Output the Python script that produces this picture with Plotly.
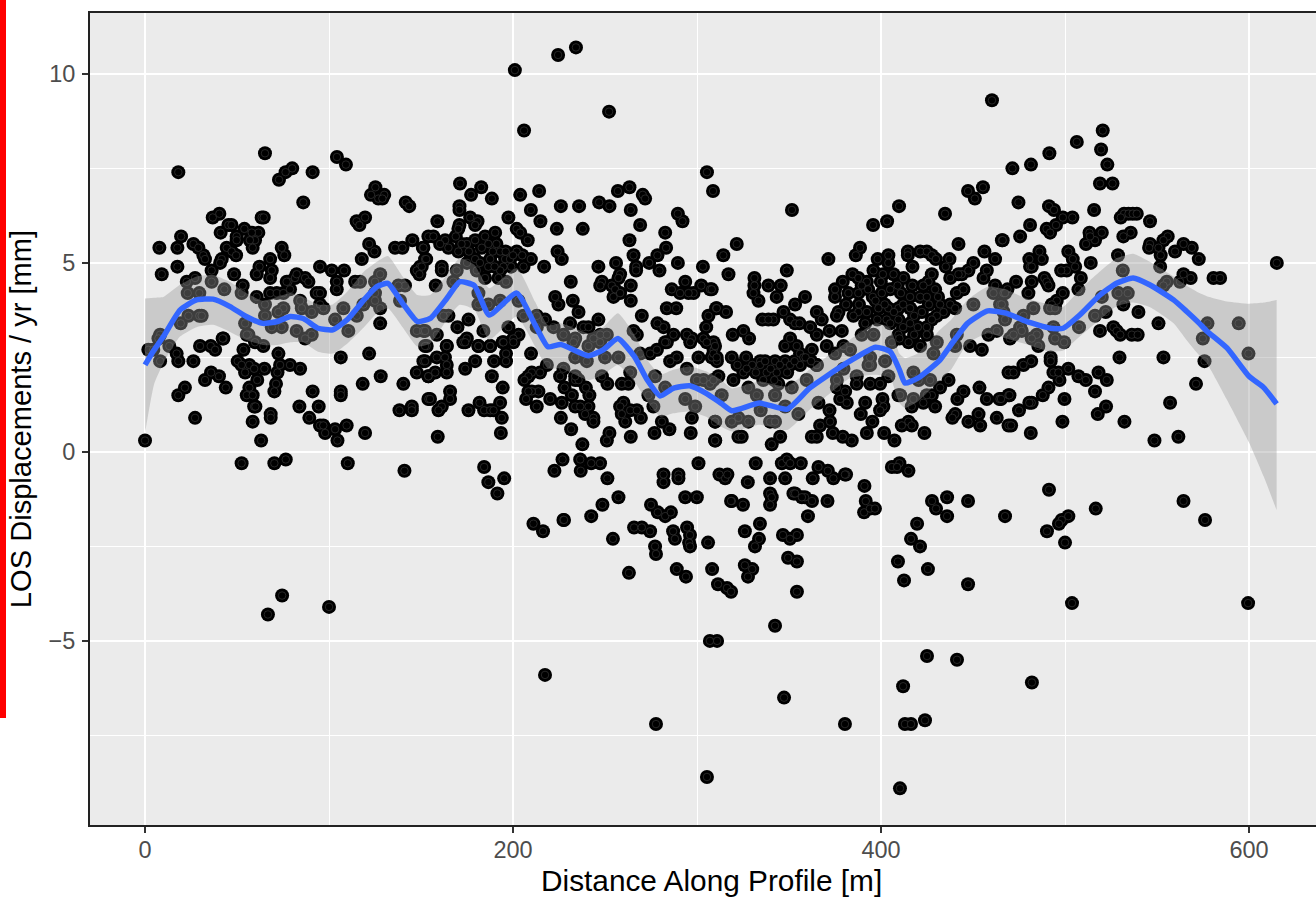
import plotly.graph_objects as go

# Points, as (distance [m], LOS displacement [mm/yr]), by region
points_west_upper = [
(18.1,7.4),(65.2,7.9),(80,7.5),(76.4,7.4),(72.8,7.2),(91.1,7.4),(104.3,7.8),(109.2,7.6),(86,6.6),(125.2,7.0),(122.8,6.8),(126.8,6.7),(130,6.8),(129,6.7),(141.7,6.6),(143.6,6.5),
(40.4,6.3),(36.8,6.2),(63.4,6.2),(64.5,6.2),(119.6,6.2),(115,6.1),(116.5,6.0),(45.3,6.0),(41.1,5.8),(47,6.0),(54,5.9),(61.6,5.8),(58,5.8),(59.8,5.6),(49.8,5.7),(49.8,5.6),(57,5.6),(58.5,5.4),
(19.6,5.7),(7.8,5.4),(17.6,5.4),(26.3,5.5),(29,5.4),(31.7,5.2),(32.6,5.1),(44.4,5.4),(47.1,5.3),(49.5,5.2),(41.7,5.1),(40.8,5.0),(74.3,5.4),(75.7,5.2),(68,5.1),(62.2,4.9),(60.7,4.7),(68.9,4.8),(68,4.6),
(36.2,4.8),(48.4,4.7),(17.6,4.9),(9.1,4.7),(95.1,4.9),(101.5,4.8),(108.2,4.8),(104.2,4.5),(104.2,4.3),(121.8,5.5),(124.7,5.3),(117.8,5.1),(135.9,5.4),(139.9,5.4),(145.3,5.6),(151,5.4),(152.2,5.1),(149.5,4.9),(147.7,4.8),(149.1,4.7),(154,5.7),
(77.9,4.5),(81.5,4.6),(82.4,4.7),(87,4.6),(88.8,4.5),(77,4.5),(68,4.2),(71.6,4.2),(75.2,4.2),(78.8,4.3),(93.3,4.2),(95.1,4.2),(60.7,4.1),(53.1,4.4),(52.5,4.2),(43.1,4.3),(36.2,4.5),(27.2,4.6),(22.7,4.5),(23.2,4.2),(29.5,4.2),
(127.8,4.7),(116.9,4.5),(114.2,4.5),(125,4.5),(125,4.2),(125,4.0),(141.3,4.4),(137.7,4.4),(138.6,4.0),(65.2,3.9),(75.2,3.8),(72.5,3.7),(84.3,4.0),(85.2,3.8),(90.6,3.7),(95.1,3.9),(97,3.8),(107.8,3.8),(103.3,3.5),(110.5,3.2),(118.7,3.9),(115.1,3.6),(127.8,3.8),(127.8,3.4),
(54.4,3.4),(56.2,3.1),(65.2,3.6),(68.9,3.3),(74.3,3.3),(82.4,3.2),(90.6,3.1),(87,3.0),(23.6,3.6),(19.4,3.4),(29.5,3.6),(30.8,3.6),(42.6,3.0),(147.7,3.2),(151.3,3.2),(8.2,3.1),
]
points_west_lower = [
(0,0.3),(1.8,2.7),(7.3,3.0),(13.2,2.8),(8.2,2.4),(4.5,2.7),(17.2,2.6),(18.1,2.4),(26.3,2.4),(29.9,2.8),(35.7,2.8),(38.1,2.7),(42.2,3.0),(53.5,2.7),(59.8,2.9),(64.3,2.8),(55.3,3.1),(50.4,2.4),(52.5,2.3),(54.4,2.1),(56.7,2.3),(59.3,2.2),(64.9,2.2),
(72.5,2.6),(73.4,2.3),(72,2.1),(78.8,2.3),(84.3,2.2),(35.9,2.1),(32.6,1.9),(40.2,2.0),(43.9,1.7),(21.7,1.7),(18.1,1.5),(61,1.9),(56.7,1.7),(55.3,1.5),(58.5,1.5),(59.3,1.2),(60,1.2),(71.2,1.8),(70.3,1.6),(91.1,1.6),(83.9,1.2),(94.4,1.2),(89.3,0.9),
(68.3,1.0),(68.3,0.9),(58.5,0.8),(27.2,0.9),(106.4,1.6),(106.4,1.5),(106.4,2.5),(121.8,2.6),(118.3,1.8),(128.1,2.0),(140.4,1.8),(147.7,2.1),(151.3,2.4),(154,2.0),(154,1.4),(138.3,1.1),(145,1.2),(145,1.1),(95.1,0.7),(96.9,0.7),(97.9,0.5),(103.3,0.6),(109.6,0.7),(104.6,0.3),(119.6,0.5),(63.1,0.3),
(52.5,-0.3),(70.3,-0.3),(76.5,-0.2),(110.2,-0.3),(141,-0.5),(66.8,-4.3),(74.5,-3.8),(100,-4.1),
]
points_mid_upper = [
(171.2,7.1),(182.7,7.0),(177.2,6.8),(188.5,6.7),(170.9,6.5),(170.9,6.4),(176.7,6.2),(180.7,6.1),(179.4,6.0),(170.9,6.0),(170.3,5.9),(158.9,6.1),(156.7,5.7),(168.9,5.7),(163.1,5.6),(160.4,5.5),(164.9,5.4),(170.3,5.3),(174.9,5.5),(179.4,5.6),(184.8,5.7),(186.6,5.5),(190.3,5.8),
(197.5,6.2),(202,5.9),(203.9,5.8),(208,5.6),(203.9,6.8),(214.2,6.9),(209.7,6.4),(214.9,6.1),(226,6.5),(235.9,6.5),(246.8,6.6),(252.4,6.5),(257,6.9),(263.3,7.0),(270.5,6.8),(271.8,6.7),(264,6.4),(269.1,6.0),(289.6,6.3),(292.1,6.1),(282.7,5.8),(263.3,5.6),(283.2,5.4),(278.5,5.2),(274,5.0),(265.5,5.2),(266.9,4.9),(266.9,4.8),(279.6,4.8),(289.6,5.0),(303.2,4.9),
(256,5.0),(246.4,4.9),(258.2,4.7),(257.3,4.6),(248.3,4.5),(247.4,4.4),(253.7,4.4),(255.5,4.3),(254.6,4.1),(258.2,4.2),(264,4.4),(264,4.0),(223.8,5.9),(237.9,5.9),(224.2,5.3),(226.5,5.1),(216.9,4.9),(209.7,5.1),(205.7,4.9),(202,5.3),(193,5.3),(187.6,5.1),(179.4,5.1),(195.7,5.1),(198.4,5.1),(194.8,4.9),(193,4.8),(186.6,4.9),(184.8,4.6),(192.1,4.6),(196.2,4.5),(231.4,4.5),
(286.3,4.3),(293.6,4.5),(290.8,4.2),(298.1,4.2),(302.3,4.4),(307.1,4.3),(295.4,4.2),(222.9,4.1),(224.7,3.9),(232.5,4.0),(235.6,3.7),(283.6,3.8),(288.7,3.8),(310.4,3.8),(270,3.6),(306.2,3.6),(305,3.3),(278.5,3.4),(281.8,3.3),(246.4,3.5),(238.3,3.3),(241,3.3),(231,3.4),(287.2,3.1),(294.5,3.1),(297.2,3.0),(283.6,2.9),(303.5,3.0),(309,2.9),(267.3,3.1),(247.4,3.1),(251,3.1),(243.7,3.0),(265.5,3.2),
(151.3,5.4),(152.8,5.1),(150.4,4.9),(161.3,4.9),(161.3,4.8),(158,4.4),(169.4,4.8),(167.6,4.5),(180.3,4.8),(181.2,4.2),(181.2,3.9),(186.6,3.9),(193,4.0),(164.9,3.6),(162.2,3.6),(175.8,3.5),(169.8,3.3),(183.9,3.2),(197.5,3.3),(203,4.0),(205.7,3.6),(212.9,3.6),(217.4,3.5),(212.9,3.3),(222,3.3),(227.4,3.1),(233.8,3.0),(203,3.1),(200.2,3.0),(174.9,3.0),(173,2.9),(164,2.8),(152.2,3.2),(158.6,3.1),(153.1,2.8),(181.2,2.8),(187.6,2.8),(194.4,2.9),
(201,10.1),(224.5,10.5),(234.2,10.7),(206,8.5),(252.2,9.0),(305.4,7.4),(308.7,6.9),
(172,5.5),(176,5.3),(183,5.4),(189,5.3),(191,5.5),(196,5.3),(200,5.2),(205,5.2),(199,4.9),(190,4.9),(182,5.0),(175,5.0),
]
points_mid_lower = [
(152.2,2.4),(158.6,2.5),(163,2.5),(164,2.3),(164,2.1),(157.7,2.1),(154,2.0),(174,2.2),(179.4,2.4),(189.7,2.4),(196.2,2.4),(196.2,2.6),(188.5,2.0),(194.4,1.7),(165.8,1.6),(165.8,1.4),(154.9,1.4),(161.3,1.2),(159.5,1.1),(175.8,1.1),(181.8,1.3),(184.3,1.1),(187.6,1.1),(189.4,1.1),(193,1.3),(193.9,0.9),(193.4,0.5),(159.1,0.4),
(209.8,2.6),(214.7,2.1),(210.2,2.1),(208.4,2.0),(206.2,1.9),(213.8,1.6),(210.2,1.6),(208.4,1.6),(207.1,1.4),(212.9,1.2),(220.2,1.4),(226.5,1.3),(226,0.9),(231.6,0.6),(237.7,0.2),(225.6,2.0),(228,1.7),(232,1.5),(233.8,1.9),(235.6,1.9),(239.6,1.7),(241.5,1.5),(233.8,1.2),(236.5,1.2),(241,1.2),(239.2,1.0),(243.7,0.9),(243.7,0.8),
(248.3,2.0),(251.3,1.8),(259.1,1.8),(262.7,1.8),(260,1.3),(258.2,1.2),(259.1,1.0),(261,0.8),(263.7,1.1),(267.3,1.1),(269.5,0.9),(252.4,0.5),(251,0.3),(264,0.4),(276.9,0.5),(280.9,0.8),(285,0.6),(296.6,0.5),(297.2,0.9),(309.9,0.3),(309.9,0.8),
(184.3,-0.4),(195.2,-0.7),(186.6,-0.8),(191.5,-1.1),(226.9,-0.2),(222.5,-0.5),(236.5,-0.2),(236.8,-0.5),(242.5,-0.3),(247.3,-0.3),(251.3,-0.7),(257.3,-1.2),(248.6,-1.4),(242.5,-1.7),(227.4,-1.8),(211.1,-1.9),(275,-1.4),(278.7,-1.6),(282.7,-1.7),(285.8,-1.6),(281.8,-0.6),(281.8,-0.8),(289.9,-0.6),(289.9,-0.7),(293.6,-1.2),(299.9,-1.2),(300.8,-0.3),(312.2,-0.6),
(152.2,2.8),(164,2.8),(174,2.9),(181.2,2.8),(187.6,2.8),(194.8,2.9),(200.2,2.9),(218.4,2.3),(227.4,2.2),(233.8,2.5),(240.1,2.4),(233.8,2.0),(250,2.5),(257.3,2.5),(241,2.8),(232.9,2.9),(247.3,2.9),
(263.7,2.1),(269.1,2.6),(274.5,2.6),(278.2,2.7),(285.4,2.4),(282.7,2.9),(296.3,2.9),(305.3,2.9),(309,2.7),(277.2,2.0),(282.7,1.7),(273.6,1.5),(276.3,1.2),(293.6,1.4),(299,1.2),(299.9,1.9),(303.5,1.9),(307.1,1.8),(294.5,2.2),(300.8,2.5),(310.8,2.4),(289,2.5),(308,2.5),
(216.3,-2.1),(217.4,-5.9),(227.7,-1.8),(254.3,-2.3),(263,-3.2),(265.8,-2.0),(270,-2.0),(274.5,-2.1),(277.2,-2.5),(277.7,-2.7),(277.7,-7.2),(287,-2.1),(288,-2.3),(294.6,-2.0),(296.2,-2.2),(295.7,-2.4),(296.2,-2.5),(289,-3.1),(294,-3.3),(306,-2.4),(308.2,-3.1),(305.4,-8.6),(307,-5.0),(310.9,-5.0),(311.4,-3.5),
]
points_east_upper = [
(321.6,5.5),(314.3,5.2),(317.1,4.7),(348.8,4.8),(371.4,5.1),(388.6,5.4),(386.3,5.2),(442.1,5.5),(465.7,5.6),(456.2,5.3),(462,5.1),(404,5.2),(404,5.0),(398.2,5.1),(414.6,5.3),(414.6,5.2),(421.3,5.3),(424.9,5.3),(427.6,5.2),(429.8,5.1),(437.2,5.1),(435.2,4.9),(417.1,4.9),(395.9,4.8),(384.5,4.7),(450.2,5.0),(447.5,4.8),(443.9,4.7),(457.5,4.8),(427.6,4.7),(406.8,4.7),(412.2,4.6),(379.2,4.5),(387.7,4.6),(392.3,4.5),(399.9,4.5),
(331.2,4.6),(331.2,4.4),(330.7,4.2),(333.4,4.0),(338.8,4.4),(345.5,4.4),(343.3,4.1),(358.7,4.1),(353.3,3.9),(308,4.3),(310.7,3.8),(315.8,3.7),(335.5,3.5),(341.5,3.5),(338.8,3.5),(347,3.7),(350.6,3.5),(353.3,3.4),(355.7,3.4),(365.1,3.7),(367.8,3.5),(361.5,3.3),(365.1,3.1),(372,3.2),(378.7,3.2),(375,4.3),(375,4.1),(376.9,3.7),(376,3.6),
(382.3,4.2),(387.7,4.2),(389.5,4.4),(400.4,4.2),(405,4.3),(410.8,4.2),(395.5,4.1),(415.8,4.1),(421.3,4.1),(424.9,4.1),(429.4,4.3),(425.8,4.5),(437.6,4.6),(442.1,4.7),(444.8,4.3),(441.2,4.2),(437.6,3.9),(440.3,3.8),(432.1,3.9),(430.3,3.6),(455.7,4.6),(462,4.4),(387.7,3.7),(385,3.6),(392.3,3.7),(398.6,3.8),(404,3.8),(403.1,3.5),(409.5,3.8),(415.8,3.8),(422.2,3.7),(427.6,3.5),(424.9,3.3),(415.8,3.4),(409.5,3.5),(391.4,3.4),
(424.9,3.1),(409.5,3.1),(415,2.9),(421.3,2.8),(319.4,3.1),(325.2,3.2),(328.3,3.0),(350.6,3.0),(347.9,2.8),(354.2,2.8),(356,2.6),(362.4,2.7),(370.5,2.8),(357.8,2.5),(309.8,2.8),(308.9,2.6),(310.7,2.5),(318.9,2.5),(326.7,2.5),(334.3,2.4),(342.4,2.4),(347.9,2.4),(454.8,2.7),(441.2,3.1),(440.3,2.8),(448.4,2.8),(458.4,3.1),(462.9,3.2),(430.3,2.9),(428.5,2.6),(450.2,3.9),(461.1,4.2),(466.6,4.2),(464.7,3.9),(466.6,3.7),
(389.5,3.1),(395.9,3.1),(379.6,2.8),(375,2.6),(365.1,2.3),(383.2,2.7),(394.1,2.5),(394.1,2.3),(402.2,2.4),(405.9,2.9),
(351.6,6.4),(395.7,6.0),(403.3,6.1),(409.8,6.5),(434.8,6.3),(447.3,6.9),(451,6.7),(455.4,7.0),(460.3,9.3),
(397,4.0),(402,3.9),(407,3.7),(412,3.9),(418,3.6),(426,3.9),(431,4.1),(420,3.3),(412,3.3),(405,3.4),(398,3.5),(434,3.7),(417,4.4),(423,4.4),(409,4.4),(401,4.7),(388,3.9),(381,3.9),(393,4.3),(410,3.0),(418,3.1),
]
points_east_lower = [
(311.6,2.0),(319.8,1.9),(325.2,2.1),(334.3,2.3),(337.9,2.1),(343.3,2.1),(350.6,2.3),(356,2.3),(308.9,1.9),(313.4,1.5),(309.8,0.8),(318.9,0.8),(322.5,0.9),(327.9,0.8),(334.6,1.1),(339.7,0.8),(342.4,0.8),(347.9,1.2),(355.1,1.0),(366,1.3),(332.5,1.5),(342.4,1.5),(327.9,1.7),(344.2,1.8),(351.5,1.7),(359.6,1.9),(365.1,2.3),(376,1.9),(379.6,2.2),(386.8,2.0),(393.2,2.3),(376,1.7),
(309.8,0.3),(322.5,0.4),(324.3,0.4),(345.2,0.4),(340.6,0.2),(362.4,0.4),(365.1,0.4),(366.9,0.7),(372.3,0.8),(372,1.1),(373.8,0.5),(379.2,0.4),(384.1,0.3),(377.8,1.4),(380.5,1.6),(381.4,1.3),(391.4,1.3),(389,1.0),(395.3,0.8),(392.3,0.5),(401.7,0.5),(407.3,0.3),(400.8,1.4),(401.3,1.2),(399.5,1.1),(409.5,1.5),(411.3,0.7),(414.9,0.8),(416.7,0.7),(423.6,0.5),(416.7,1.2),(423,1.3),(427.6,1.5),(429.4,1.2),
(417.6,2.1),(420.4,1.9),(426.7,1.9),(417.6,1.4),(424.9,1.5),(432.1,1.7),(436.7,1.9),(444.8,1.6),(441.5,1.4),(453.5,1.7),(457.5,1.4),(464.4,1.4),(469.3,1.5),(440.3,1.0),(438.8,0.9),(447.5,0.8),(453,1.0),(453.9,0.7),(462.9,0.9),(469.3,0.7),(469.3,2.1),(386.8,1.8),(394.1,1.8),(399.5,1.8),(404,2.0),(410.4,1.5),
(331.9,-0.3),(315.3,-0.7),(316.5,-0.6),(327.6,-0.8),(339.7,-0.7),(347.9,-0.7),(346.1,-0.3),(348.8,-0.2),(350.6,-0.3),(356.4,-0.3),(366,-0.4),(371.1,-0.5),(374.1,-0.7),(381,-0.6),(362.9,-0.7),(391,-0.9),(391.7,-1.3),(339.7,-1.1),(340.6,-1.2),(352.4,-1.1),(358.7,-1.2),(370.9,-1.3),(318.9,-1.3),(405.9,-0.4),(410,-0.3),(414.9,-0.5),
(316.3,-3.6),(318.5,-3.7),(318.5,-1.3),(325,-1.4),(326,-2.1),(326,-3.0),(327.7,-3.3),(331.5,-2.5),(333.7,-2.3),(334.2,-1.9),(330,-3.1),(342.4,-4.6),(347.3,-6.5),(346.7,-2.2),(350.5,-2.3),(354.3,-2.2),(349.5,-2.8),(354.3,-2.9),(354.3,-3.7),(339.7,-1.4),(353.3,-1.1),(357,-1.2),(360.3,-1.7),(362.5,-1.3),(380.4,-7.2),(380.4,-0.6),(390.8,-1.6),(394,-1.5),(396.7,-1.5),
(409.2,-2.9),(412.5,-3.4),(419.6,-1.9),(416.3,-2.3),(421.2,-2.5),(425.5,-3.1),(427.7,-1.3),(435.9,-1.2),(429.9,-1.5),(435.9,-1.7),(447.3,-1.3),(447.3,-3.5),(412,-6.2),(425,-5.4),(441.3,-5.5),(423.9,-7.1),(413,-7.2),(416.3,-7.2),(410.3,-8.9),(408.7,-0.4),
(330,2.3),(337,2.4),(340,2.2),(345,2.3),(349,2.1),(353,2.4),(359,2.5),(362,2.4),(327,2.2),(332,2.1),(322,2.3),(336,1.9),(342,1.9),
]
points_far_upper = [
(520.5,8.5),(506.4,8.2),(519.6,8.0),(491.5,7.9),(523,7.6),(481.5,7.6),(471.4,7.5),(519,7.1),(525.8,7.1),(474.7,6.6),(491.3,6.5),(494,6.4),(515.8,6.4),(498.8,6.2),(504,6.2),(532.1,6.3),(534.5,6.3),(536.8,6.3),(539,6.3),(530.3,6.2),(546.2,6.1),(481,6.0),(495.1,6.0),(490,5.9),(491.9,5.8),(513.3,5.8),(516.3,5.6),(520,5.8),(511.4,5.5),(513.6,5.7),(535.7,5.8),(531.7,5.7),(475.6,5.7),(466.1,5.6),(555.8,5.7),(553.5,5.6),(546.2,5.5),(545.7,5.4),(550.8,5.4),(552,5.2),(559.8,5.3),(564.4,5.5),(568.9,5.4),(572.7,5.1),(528.8,5.2),
(480.6,5.1),(486.1,5.3),(487.4,5.1),(481,4.9),(481.9,4.9),(501.8,5.3),(504.2,5.1),(505.5,4.9),(500.9,4.8),(497.9,4.8),(514,5.0),(508.6,4.6),(507.3,4.3),(488.8,4.6),(490,4.5),(491,4.4),(481.9,4.5),(480.1,4.2),(473.4,4.5),(468.7,4.3),(498.8,4.2),(495.5,4.0),(492.8,3.9),(615.1,5.0),(564.4,4.7),(568.3,4.6),(580.7,4.6),(584.3,4.6),(551.7,4.9),(555.3,4.5),(553.5,4.4),(562.5,4.5),(531.4,4.8),(529,4.2),(534.1,4.2),(531.7,3.9),(520,4.1),(516.3,3.6),(522.1,3.7),(539.9,3.7),(550.8,3.4),(526.3,3.3),(519,3.2),(577.4,3.4),(594.4,3.4),(493.7,3.3),(477.4,3.6),(482.8,3.8),(491.9,3.8),(494.6,3.8),(467.4,4.2),(465.6,3.9),(467.4,3.5),(475.6,3.3),
]
points_far_lower = [
(528.1,3.2),(530,3.1),(536.3,3.1),(539.5,3.1),(574.9,3.0),(599.7,2.6),(529.6,2.5),(553.5,2.5),(575.8,2.4),(492.2,2.5),(492.2,2.4),(481.6,2.4),(477.4,2.3),(472,2.1),(501.8,2.2),(493.7,2.1),(496.4,2.1),(497,1.9),(507.3,2.0),(511.3,1.9),(518.2,2.1),(522.7,1.9),(491,1.7),(487.9,1.5),(481.9,1.3),(480.6,1.3),(469.8,1.5),(465.2,1.4),(475,1.1),(470.7,0.7),(481.4,0.5),(499.7,1.4),(498.6,0.8),(516.3,1.6),(522.3,1.2),(517.8,1.0),(532.3,0.8),(571.2,1.8),(557.1,1.3),(561.6,0.4),(548.6,0.3),
(491.3,-1.0),(516.7,-1.5),(564.4,-1.3),(501.8,-1.7),(467.4,-1.7),(498.2,-1.8),(576.1,-1.8),(484.6,3.1),(485.5,2.8),(494.6,3.0),(499.5,2.9),(507.6,3.3),(470.1,3.0),(472,3.1),(476.5,3.2),(481.9,3.0),
(490.2,-2.1),(496.7,-1.9),(500,-2.4),(503.8,-4.0),(482,-6.1),(599.5,-4.0),
]

smooth_x = [0,5,10,19,28,37,46,55,64,72,79,86,94,102,110,119,126,132,140,148,155,164,171,179,187,202,212,219,226,241,249,257,266,273,280,287,296,305,313,319,334,349,361,370,383,397,405,410,413,420,432,438,447,458,468,479,492,499,508,519,528,537,546,559,566,573,577,588,600,608,615]
smooth_y = [2.3,2.7,3.05,3.75,4.02,4.04,3.85,3.58,3.4,3.45,3.58,3.53,3.27,3.23,3.5,4.02,4.37,4.46,3.93,3.45,3.53,4.06,4.5,4.4,3.62,4.2,3.36,2.78,2.84,2.54,2.7,3.0,2.52,1.9,1.48,1.68,1.75,1.55,1.29,1.09,1.29,1.13,1.68,1.99,2.4,2.77,2.65,2.17,1.82,1.95,2.43,2.83,3.4,3.73,3.67,3.45,3.27,3.27,3.62,4.15,4.46,4.6,4.42,4.02,3.72,3.4,3.2,2.75,2.0,1.7,1.27]
band_upper = [4.06,4.08,4.1,4.42,4.64,4.68,4.5,4.2,4.0,4.1,4.2,4.1,3.9,3.9,4.24,4.77,5.03,5.18,4.64,4.15,4.15,4.68,5.12,4.95,4.33,4.86,3.97,3.35,3.4,3.14,3.3,3.67,3.1,2.43,2.04,2.17,2.26,2.13,1.9,1.68,1.86,1.73,2.17,2.5,2.96,3.4,3.27,2.6,2.48,2.6,3.23,3.49,4.02,4.37,4.29,4.06,3.9,3.84,4.29,4.77,5.12,5.24,5.03,4.64,4.4,4.2,4.12,3.98,3.92,3.95,4.02]
band_lower = [0.5,1.8,2.35,3.05,3.3,3.36,3.18,2.96,2.83,2.83,2.9,2.9,2.65,2.6,2.87,3.3,3.67,3.8,3.3,2.79,2.87,3.49,3.89,3.76,2.96,3.58,2.79,2.21,2.21,1.9,2.05,2.3,1.86,1.33,0.93,1.02,1.07,0.93,0.67,0.54,0.72,0.58,1.11,1.46,1.95,2.04,1.95,1.29,1.16,1.33,1.9,2.17,2.87,3.14,3.0,2.85,2.65,2.68,3.05,3.5,3.85,3.95,3.83,3.4,2.96,2.55,2.35,1.38,0.25,-0.65,-1.54]
assert len(smooth_x) == len(smooth_y) == len(band_upper) == len(band_lower)

x_ticks = [0, 200, 400, 600]
x_minor = [100, 300, 500]
y_ticks = [-5, 0, 5, 10]
y_minor = [-7.5, -2.5, 2.5, 7.5]

all_points = (points_west_upper + points_west_lower + points_mid_upper + points_mid_lower
              + points_east_upper + points_east_lower + points_far_upper + points_far_lower)
distance = [p[0] for p in all_points]
los = [p[1] for p in all_points]

fig = go.Figure()
fig.add_trace(go.Scatter(x=distance, y=los, mode="markers", hoverinfo="skip",
                         marker=dict(size=14, color="#000000", line=dict(width=0))))
fig.add_trace(go.Scatter(x=distance, y=los, mode="markers", hoverinfo="skip",
                         marker=dict(size=7.5, color="#000000",
                                     line=dict(width=1, color="rgba(70,70,70,0.55)"))))
fig.add_trace(go.Scatter(x=smooth_x, y=band_lower, mode="lines", hoverinfo="skip",
                         line=dict(width=0, shape="spline", smoothing=0.5)))
fig.add_trace(go.Scatter(x=smooth_x, y=band_upper, mode="lines", fill="tonexty", hoverinfo="skip",
                         line=dict(width=0, shape="spline", smoothing=0.5),
                         fillcolor="rgba(153,153,153,0.4)"))
fig.add_trace(go.Scatter(x=smooth_x, y=smooth_y, mode="lines", hoverinfo="skip",
                         line=dict(color="#3366FF", width=5.5, shape="spline", smoothing=0.5)))

common = dict(showline=True, linecolor="#222222", linewidth=2, ticks="outside", ticklen=6,
              tickcolor="#333333", tickwidth=2, gridcolor="white", gridwidth=2,
              zeroline=False, tickfont=dict(family="Liberation Sans", size=23.5, color="#4D4D4D"))
fig.update_layout(
    width=1316, height=898, showlegend=False,
    margin=dict(l=90, r=0, t=13, b=73, pad=0),
    paper_bgcolor="white", plot_bgcolor="#EBEBEB",
    font=dict(family="Liberation Sans"),
    xaxis=dict(range=[-29.9, 636.4], tickvals=x_ticks, mirror=True, ticklabelstandoff=-3,
               minor=dict(tickvals=x_minor, showgrid=True, gridcolor="white", gridwidth=1, ticks=""),
               **common),
    yaxis=dict(range=[-9.87, 11.61], tickvals=y_ticks, ticklabelstandoff=2,
               minor=dict(tickvals=y_minor, showgrid=True, gridcolor="white", gridwidth=1, ticks=""),
               title=dict(text="LOS Displacements / yr [mm]", standoff=8,
                          font=dict(family="Liberation Sans", size=29.1, color="black")), **common),
    annotations=[dict(text="Distance Along Profile [m]", xref="paper", yref="paper",
                      x=621/1226, y=-55/812, xanchor="center", yanchor="middle", showarrow=False,
                      font=dict(family="Liberation Sans", size=29.8, color="black"))],
    shapes=[dict(type="rect", xref="paper", yref="paper", x0=-90/1226, x1=-84/1226,
                 y0=107/812, y1=825/812, fillcolor="#FF0000", line=dict(width=0), layer="above")],
)
fig.write_html("out.html", config={"displayModeBar": False}, post_script="document.body.style.margin='0';")
